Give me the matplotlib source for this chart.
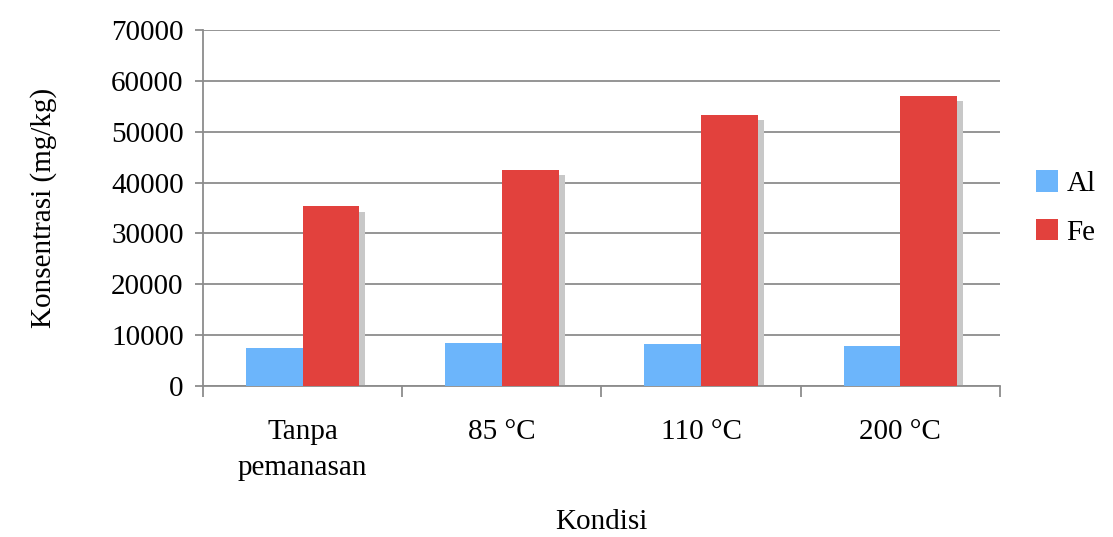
import matplotlib.pyplot as plt
import numpy as np

plt.rcParams['font.family'] = ['Liberation Serif', 'DejaVu Serif']

kondisi = ['Tanpa\npemanasan', '85 °C', '110 °C', '200 °C']
al = [7500, 8500, 8200, 7900]
fe = [35300, 42500, 53300, 57100]

blue = '#6cb5fb'
red = '#e2413d'
fs = 21

fig = plt.figure(figsize=(11.13, 5.37), dpi=100)
ax = fig.add_axes([0.1824, 0.2812, 0.716, 0.663])

x = np.arange(len(kondisi))
w = 0.285

# shadow behind the bars
ax.bar(x + w / 2 + 0.03, np.array(fe) - 1100, w, color='#c8c8c8', zorder=2)
ax.bar(x - w / 2, al, w, color=blue, label='Al', zorder=3)
ax.bar(x + w / 2, fe, w, color=red, label='Fe', zorder=3)

ax.set_xlim(-0.5, len(kondisi) - 0.5)
ax.set_ylim(0, 70000)
ax.set_yticks(np.arange(0, 70001, 10000))
ax.yaxis.grid(True, color='#8c8c8c', linewidth=1.3, zorder=0)
ax.set_axisbelow(True)

ax.set_xticks(x)
ax.set_xticklabels(kondisi, fontsize=fs, linespacing=1.5)
ax.set_xticks(np.arange(-0.5, len(kondisi)), minor=True)
ax.tick_params(axis='x', which='major', length=0, pad=24)
ax.tick_params(axis='x', which='minor', length=8, color='#8c8c8c', width=1.3)
ax.tick_params(axis='y', labelsize=fs, length=6, color='#8c8c8c', width=1.3, pad=8)

for s in ['top', 'right']:
    ax.spines[s].set_visible(False)
for s in ['left', 'bottom']:
    ax.spines[s].set_color('#8c8c8c')
    ax.spines[s].set_linewidth(1.3)

ax.set_ylabel('Konsentrasi (mg/kg)', fontsize=fs, labelpad=39)
ax.set_xlabel('Kondisi', fontsize=fs, labelpad=20)

ax.legend(loc='center left', bbox_to_anchor=(1.012, 0.5), frameon=False,
          fontsize=fs, handlelength=0.75, handleheight=0.75, handletextpad=0.3,
          labelspacing=0.75)

fig.savefig('out.png', dpi=100)
